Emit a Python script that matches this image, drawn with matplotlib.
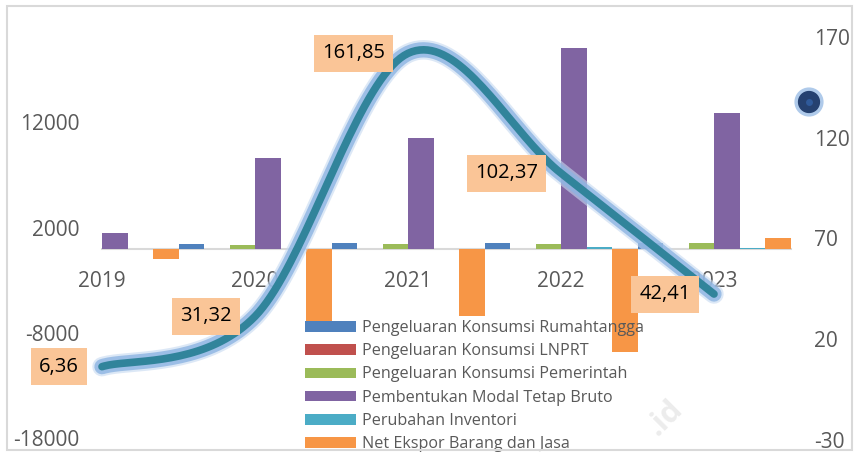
import numpy as np
import matplotlib
matplotlib.use("Agg")
from matplotlib import pyplot as plt
from matplotlib import patheffects as pe
from matplotlib.patches import Rectangle

plt.rcParams["font.family"] = ["Open Sans", "DejaVu Sans"]
plt.rcParams["axes.unicode_minus"] = False

years = ["2019", "2020", "2021", "2022", "2023"]
rumahtangga = [400, 450, 510, 570, 570]
lnprt = [15, 15, 15, 15, 15]
pemerintah = [300, 320, 450, 450, 510]
pmtb = [1460, 8630, 10470, 19010, 12840]
inventori = [0, 0, 0, 190, 40]
net_ekspor = [-1000, -7000, -6400, -9770, 1040]
pertumbuhan = [6.36, 31.32, 161.85, 102.37, 42.41]

series = [
    ("Pengeluaran Konsumsi Rumahtangga", rumahtangga, "#4F81BD"),
    ("Pengeluaran Konsumsi LNPRT", lnprt, "#C0504D"),
    ("Pengeluaran Konsumsi Pemerintah", pemerintah, "#9BBB59"),
    ("Pembentukan Modal Tetap Bruto", pmtb, "#8064A2"),
    ("Perubahan Inventori", inventori, "#4BACC6"),
    ("Net Ekspor Barang dan Jasa", net_ekspor, "#F79646"),
]

W, H = 855, 454


def fx(px):
    return px / W


def fy(py):
    return 1 - py / H


def smooth(xs, ys, sx, sy, n=40):
    # excel-like smoothed line: cardinal bezier in screen space
    p = np.column_stack([np.asarray(xs, float) * sx, np.asarray(ys, float) * sy])
    pts = []
    for i in range(len(p) - 1):
        p0 = p[max(i - 1, 0)]
        p1, p2 = p[i], p[i + 1]
        p3 = p[min(i + 2, len(p) - 1)]
        c1 = p1 + (p2 - p0) / 6
        c2 = p2 - (p3 - p1) / 6
        t = np.linspace(0, 1, n)[:, None]
        seg = (1 - t) ** 3 * p1 + 3 * (1 - t) ** 2 * t * c1 + 3 * (1 - t) * t ** 2 * c2 + t ** 3 * p2
        pts.append(seg if i == 0 else seg[1:])
    pts = np.vstack(pts)
    return pts[:, 0] / sx, pts[:, 1] / sy


fig = plt.figure(figsize=(W / 100, H / 100), dpi=100)
ax_left, ax_right, ax_top, ax_bot = 102, 790.5, 20, 445
ax = fig.add_axes([fx(ax_left), fy(ax_bot), fx(ax_right) - fx(ax_left), fy(ax_top) - fy(ax_bot)])
ax.patch.set_alpha(0)

x = np.arange(len(years))
w = 1 / 6
for k, (name, vals, col) in enumerate(series):
    ax.bar(x + (k - 2.5) * w, vals, width=w, color=col, label=name, zorder=2)

ax.set_xlim(0, 4.5)
ax.set_ylim(-18625, 21700)
ax.set_yticks([-18000, -8000, 2000, 12000])
ax.set_xticks(x)
ax.set_xticklabels(years)
for s in ["top", "right", "left"]:
    ax.spines[s].set_visible(False)
ax.spines["bottom"].set_position(("data", 0))
ax.spines["bottom"].set_color("#D9D9D9")
ax.spines["bottom"].set_linewidth(1.5)
ax.spines["bottom"].set_zorder(1)
ax.tick_params(axis="y", length=0, pad=16, labelsize=15, labelcolor="#595959")
ax.tick_params(axis="x", length=0, pad=16, labelsize=15, labelcolor="#595959")

leg = ax.legend(loc="upper left", bbox_to_anchor=(fx(305), fy(320)),
                bbox_transform=fig.transFigure, frameon=False, fontsize=11.6,
                handlelength=3.15, handleheight=0.62, handletextpad=0.38,
                labelspacing=0.45, borderpad=0, borderaxespad=0)
for t in leg.get_texts():
    t.set_color("#595959")

ax2 = ax.twinx()
ax2.set_ylim(-32.5, 178.4)
ax2.set_yticks([-30, 20, 70, 120, 170])
for s in ax2.spines.values():
    s.set_visible(False)
ax2.tick_params(axis="y", length=0, pad=17, labelsize=15, labelcolor="#595959")

sy = 2.015 / 153
lx, ly = smooth(x, pertumbuhan, 1.0, sy)
glow = [pe.Stroke(linewidth=14, foreground="#C6D9F1", alpha=0.6),
        pe.Stroke(linewidth=11, foreground="#8DB4E2", alpha=0.8),
        pe.Normal()]
ax2.plot(lx, ly, color="#31849B", lw=5.5, solid_capstyle="round",
         clip_on=False, path_effects=glow, zorder=3)

for xi, v in zip(x, pertumbuhan):
    ax2.annotate(f"{v:.2f}".replace(".", ","), (xi, v), xytext=(-23, 0),
                 textcoords="offset pixels", ha="right", va="center",
                 fontsize=14.5, color="black", zorder=5, annotation_clip=False,
                 bbox=dict(boxstyle="square,pad=0.42", fc="#FAC597", ec="none"))

# stray legend marker of the line series
fig.add_artist(plt.Line2D([fx(809)], [fy(102)], marker="o", markersize=15,
                          markerfacecolor="#254170", markeredgecolor="#254170",
                          transform=fig.transFigure,
                          path_effects=[pe.Stroke(linewidth=6, foreground="#8DB4E2", alpha=0.7),
                                        pe.Normal()]))
fig.add_artist(plt.Line2D([fx(809)], [fy(102)], marker="o", markersize=5,
                          markerfacecolor="#2F5A9A", markeredgecolor="none",
                          transform=fig.transFigure))

fig.text(fx(684), fy(410), ".id", rotation=45, rotation_mode="anchor",
         ha="right", va="baseline", fontsize=22, fontweight="bold",
         color="#ECECEC", zorder=0)

fig.add_artist(Rectangle((fx(7), fy(450)), fx(852) - fx(7), fy(6) - fy(450),
                         transform=fig.transFigure, fill=False, ec="#D9D9D9", lw=1.5))

fig.savefig("out.png", dpi=100)
